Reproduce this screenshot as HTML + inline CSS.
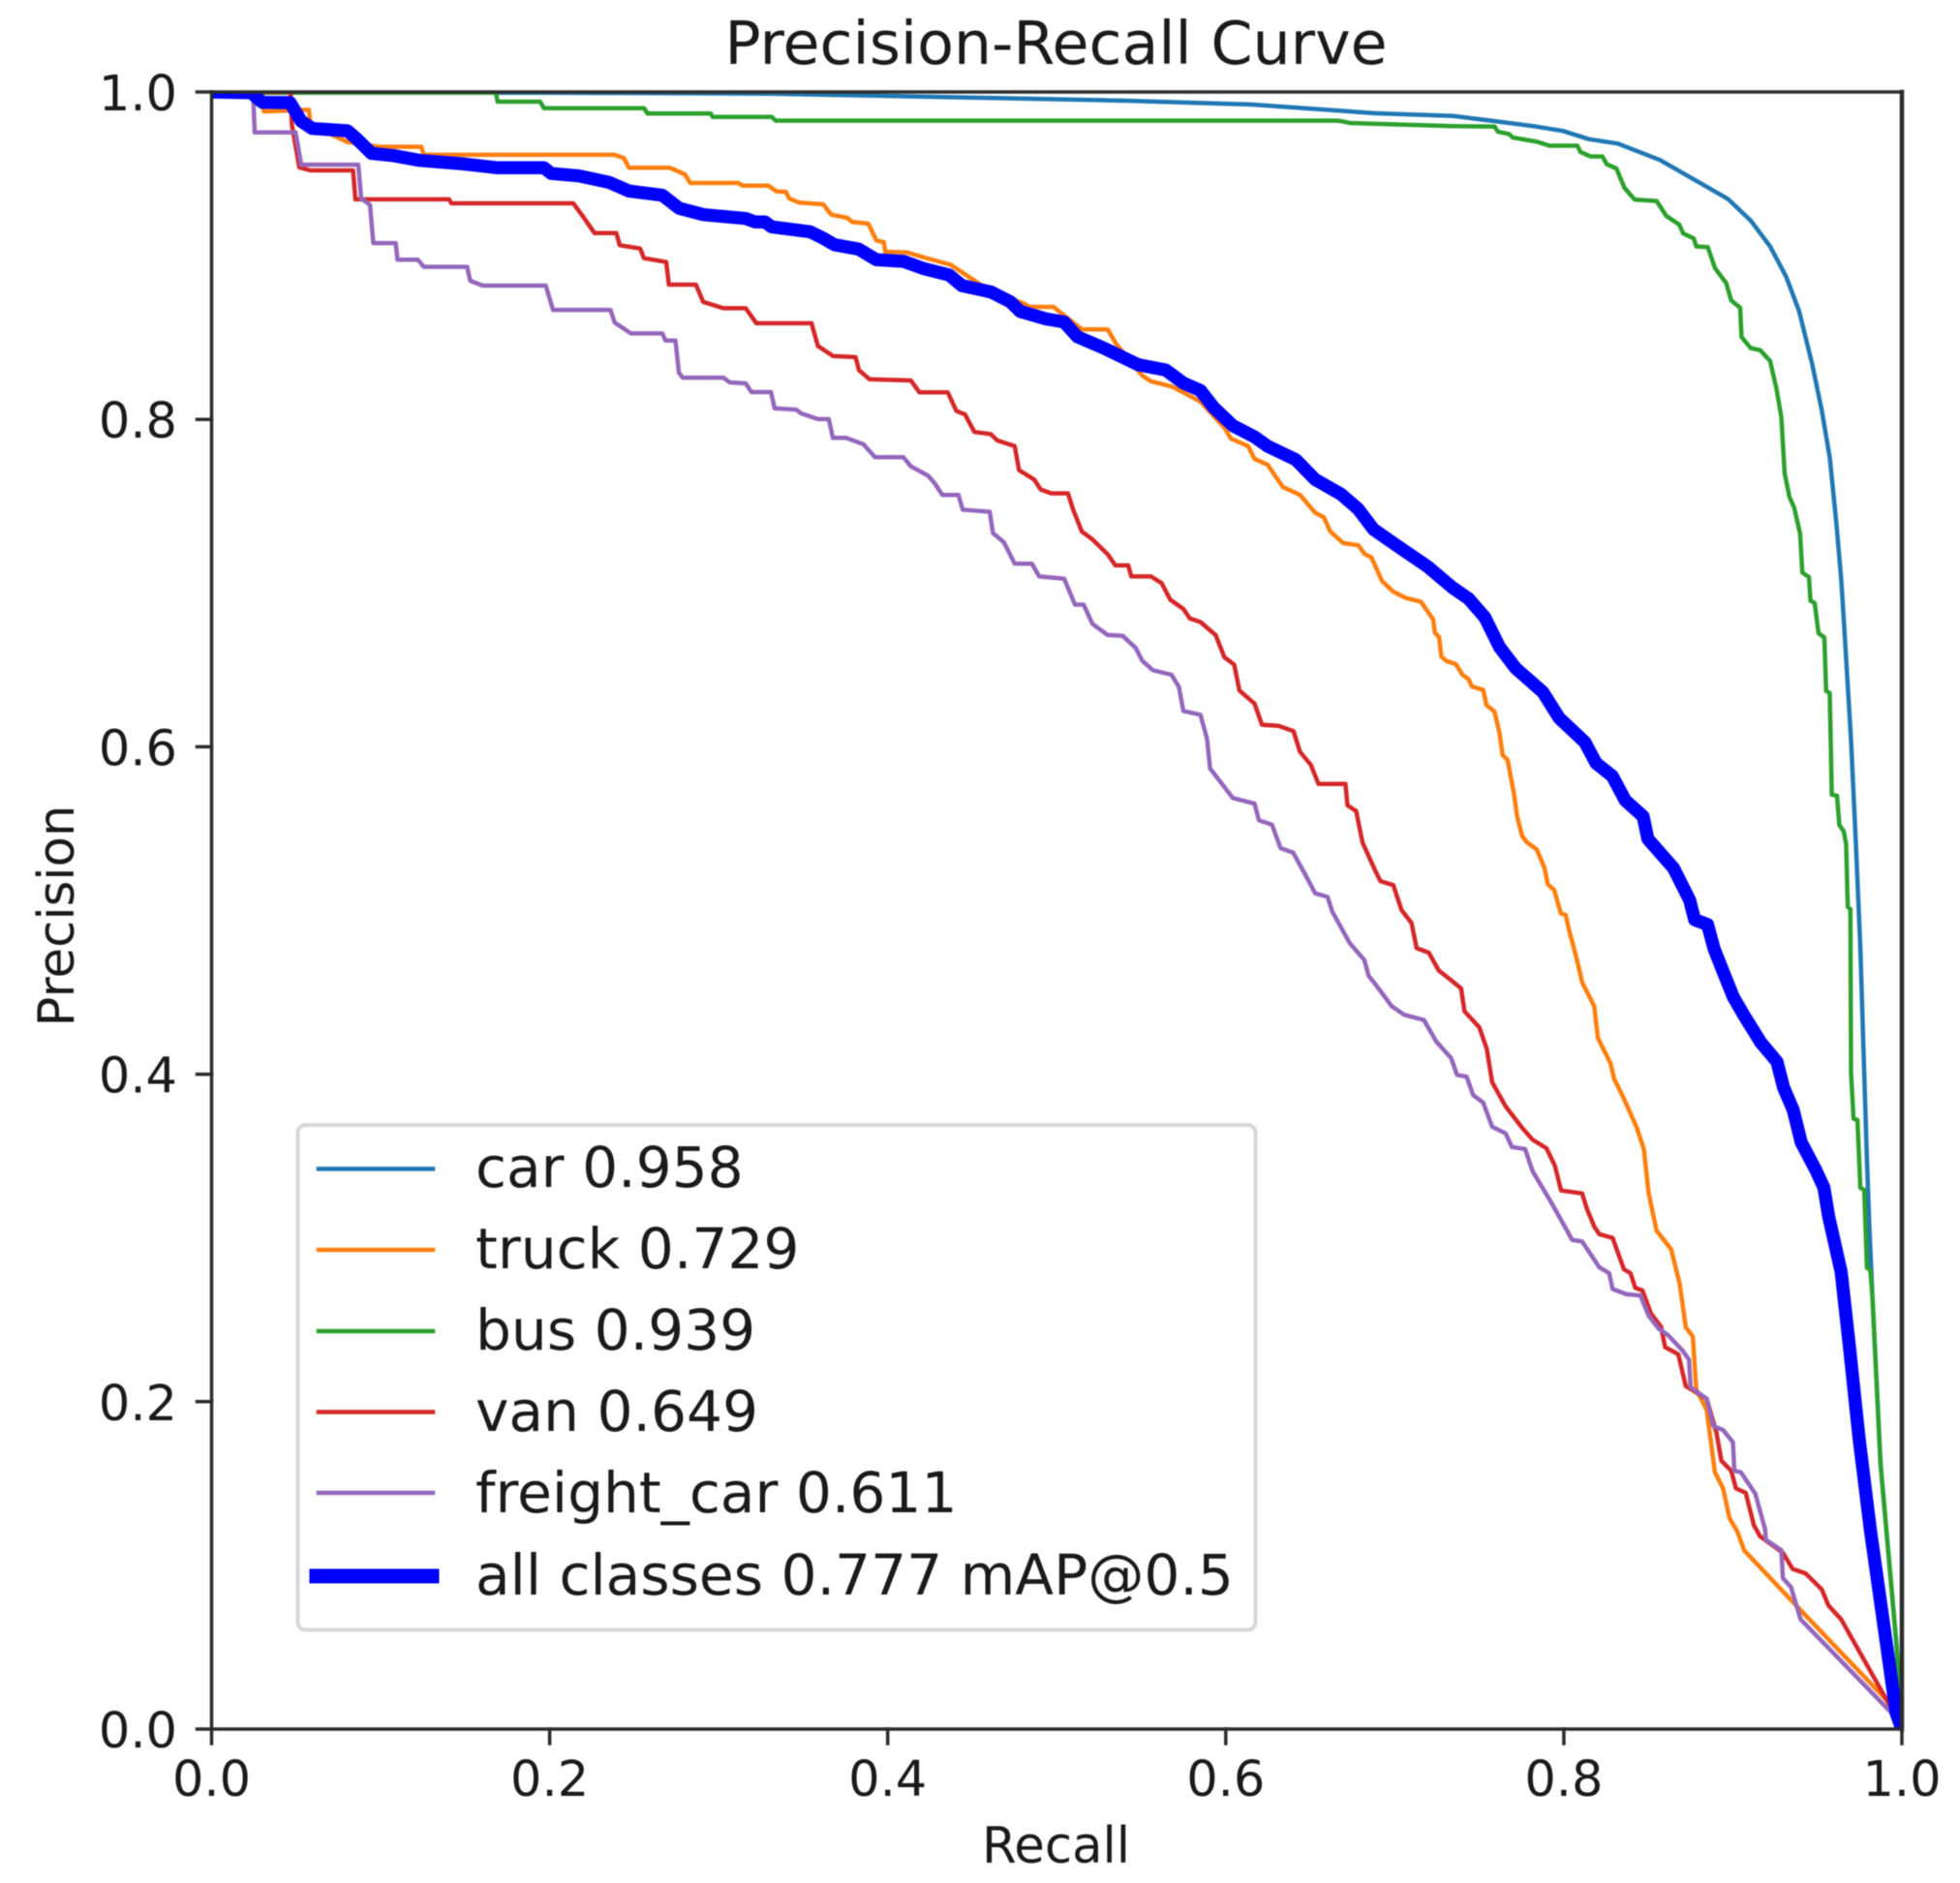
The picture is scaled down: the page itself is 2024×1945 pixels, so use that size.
<!DOCTYPE html>
<html lang="en">
<head>
<meta charset="utf-8">
<title>Precision-Recall Curve</title>
<style>
  html, body { margin: 0; padding: 0; background: #ffffff; }
  #chart { display: block; width: 2024px; height: 1945px; filter: blur(0.6px); }
  text { font-family: "DejaVu Sans", "Liberation Sans", sans-serif; fill: #1a1a1a; }
</style>
</head>
<body>
<svg id="chart" xmlns="http://www.w3.org/2000/svg" width="2024" height="1945" viewBox="0 0 2024 1945">
  <defs>
    <clipPath id="plot-clip"><rect id="plot-clip-rect" x="218.5" y="95" width="1745.5" height="1691"/></clipPath>
  </defs>
  <rect x="0" y="0" width="2024" height="1945" fill="#ffffff"/>
  <g id="series-layer" fill="none" stroke-linejoin="round" clip-path="url(#plot-clip)"></g>
  <g id="axes-layer"></g>
  <text x="1090.5" y="66" font-size="61.8" text-anchor="middle">Precision-Recall Curve</text>
  <text x="1090.5" y="1924" font-size="51.3" text-anchor="middle">Recall</text>
  <text x="76" y="946" font-size="51.3" text-anchor="middle" transform="rotate(-90 76 946)">Precision</text>
  <g>
    <rect x="307.5" y="1162" width="989" height="521.5" rx="8" ry="8" fill="#ffffff" fill-opacity="0.9" stroke="#d8d8d8" stroke-width="4"/>
    <g>
      <line x1="329" y1="1207.4" x2="447" y2="1207.4" stroke="#1f77b4" stroke-width="4.5" stroke-linecap="square"/>
      <text x="491" y="1226" font-size="58.2">car 0.958</text>
    </g>
    <g>
      <line x1="329" y1="1291" x2="447" y2="1291" stroke="#ff7f0e" stroke-width="4.5" stroke-linecap="square"/>
      <text x="491" y="1310" font-size="58.2">truck 0.729</text>
    </g>
    <g>
      <line x1="329" y1="1375" x2="447" y2="1375" stroke="#2ca02c" stroke-width="4.5" stroke-linecap="square"/>
      <text x="491" y="1394" font-size="58.2">bus 0.939</text>
    </g>
    <g>
      <line x1="329" y1="1458.5" x2="447" y2="1458.5" stroke="#d62728" stroke-width="4.5" stroke-linecap="square"/>
      <text x="491" y="1478" font-size="58.2">van 0.649</text>
    </g>
    <g>
      <line x1="329" y1="1542" x2="447" y2="1542" stroke="#9467bd" stroke-width="4.5" stroke-linecap="square"/>
      <text x="491" y="1562" font-size="58.2">freight_car 0.611</text>
    </g>
    <g>
      <line x1="327" y1="1628" x2="446" y2="1628" stroke="#0000ff" stroke-width="15" stroke-linecap="square"/>
      <text x="491" y="1647" font-size="58.2">all classes 0.777 mAP@0.5</text>
    </g>
  </g>
</svg>
<script>
var xTickLabels = ["0.0", "0.2", "0.4", "0.6", "0.8", "1.0"];
var yTickLabels = ["0.0", "0.2", "0.4", "0.6", "0.8", "1.0"];

var carRecall = [
  0, 0.2, 0.33, 0.4667, 0.5407, 0.6146, 0.6886, 0.7342, 0.7591, 0.7821,
  0.7993, 0.8147, 0.8319, 0.8568, 0.8836, 0.897, 0.9105, 0.922, 0.9315, 0.9392,
  0.9468, 0.9526, 0.9574, 0.9612, 0.9641, 0.9656, 0.9699, 0.9728, 0.9754, 0.9773,
  0.9793, 0.9807, 0.9826, 0.9875, 0.9968, 1
];
var carPrecision = [
  0.9995, 0.9995, 0.999, 0.9962, 0.9947, 0.9924, 0.987, 0.9854, 0.9822, 0.9791,
  0.9762, 0.9712, 0.9685, 0.9585, 0.9427, 0.9347, 0.9215, 0.9057, 0.8872, 0.8661,
  0.8344, 0.8054, 0.7764, 0.7367, 0.7024, 0.6777, 0.6038, 0.5405, 0.4772, 0.4137,
  0.3477, 0.3081, 0.2637, 0.16, 0.0516, 0
];

var truckRecall = [
  0, 0.028, 0.031, 0.0575, 0.0585, 0.0804, 0.0988, 0.1241, 0.1255, 0.2383,
  0.2439, 0.247, 0.2712, 0.28, 0.2832, 0.3117, 0.3139, 0.3293, 0.3341, 0.3398,
  0.3417, 0.3475, 0.3618, 0.3666, 0.3761, 0.379, 0.3885, 0.3933, 0.3977, 0.3985,
  0.4114, 0.4229, 0.4372, 0.4611, 0.4802, 0.4838, 0.498, 0.5148, 0.5301, 0.5352,
  0.5506, 0.5557, 0.5684, 0.585, 0.5992, 0.603, 0.6132, 0.617, 0.6247, 0.6337,
  0.6439, 0.6529, 0.658, 0.6618, 0.6695, 0.6784, 0.6823, 0.6861, 0.6925, 0.6989,
  0.7066, 0.7155, 0.7227, 0.7237, 0.7262, 0.7275, 0.7304, 0.7361, 0.7399, 0.7437,
  0.7456, 0.7523, 0.7542, 0.759, 0.7619, 0.7638, 0.7667, 0.7705, 0.7724, 0.7753,
  0.7781, 0.7839, 0.7886, 0.7905, 0.7943, 0.7982, 0.8011, 0.803, 0.8078, 0.8108,
  0.818, 0.8201, 0.8277, 0.8297, 0.8356, 0.8429, 0.8473, 0.8502, 0.8549, 0.8635,
  0.8685, 0.8721, 0.8763, 0.8783, 0.8845, 0.8894, 0.8942, 0.898, 0.9028, 0.9066,
  0.9401, 0.9948, 1
];
var truckPrecision = [
  1, 1, 0.9881, 0.9891, 0.98, 0.9694, 0.9665, 0.9665, 0.9616, 0.9616,
  0.9596, 0.9537, 0.9537, 0.9497, 0.9444, 0.9444, 0.9428, 0.9428, 0.9393, 0.9389,
  0.935, 0.9324, 0.9314, 0.9251, 0.9231, 0.9206, 0.9196, 0.9093, 0.9083, 0.9024,
  0.902, 0.8985, 0.8945, 0.878, 0.8709, 0.8687, 0.8687, 0.855, 0.855, 0.846,
  0.8267, 0.8233, 0.82, 0.8109, 0.795, 0.7883, 0.7837, 0.7759, 0.7724, 0.7588,
  0.7539, 0.743, 0.7403, 0.7316, 0.7244, 0.7231, 0.7176, 0.7158, 0.7011, 0.6949,
  0.6909, 0.6886, 0.6777, 0.6698, 0.6669, 0.6551, 0.6525, 0.6505, 0.6442, 0.6412,
  0.6369, 0.6347, 0.6255, 0.6215, 0.6087, 0.5949, 0.592, 0.5713, 0.5575, 0.5456,
  0.5417, 0.5374, 0.5259, 0.5161, 0.5125, 0.4983, 0.4973, 0.4885, 0.4698, 0.4562,
  0.4415, 0.4222, 0.4064, 0.3974, 0.385, 0.3679, 0.3543, 0.3272, 0.3044, 0.2931,
  0.2721, 0.2454, 0.2398, 0.2076, 0.1949, 0.1569, 0.1471, 0.1288, 0.1204, 0.1092,
  0.0726, 0.0136, 0
];

var busRecall = [
  0, 0.1682, 0.1692, 0.1944, 0.1966, 0.2558, 0.258, 0.2953, 0.2964, 0.3314,
  0.3336, 0.6664, 0.6738, 0.7342, 0.7591, 0.761, 0.7677, 0.7697, 0.784, 0.7916,
  0.808, 0.8099, 0.8157, 0.8228, 0.8253, 0.8311, 0.8358, 0.8419, 0.8549, 0.8606,
  0.8683, 0.8706, 0.8769, 0.8783, 0.8852, 0.8894, 0.8961, 0.899, 0.9043, 0.9051,
  0.9105, 0.9162, 0.922, 0.9258, 0.9287, 0.9306, 0.9335, 0.9363, 0.9398, 0.9411,
  0.945, 0.9459, 0.9484, 0.9507, 0.9541, 0.9552, 0.9573, 0.9585, 0.9616, 0.963,
  0.9656, 0.967, 0.968, 0.9695, 0.9699, 0.9714, 0.9737, 0.9754, 0.9777, 0.9793,
  0.9813, 0.9826, 0.9872, 0.9968, 1
];
var busPrecision = [
  0.9995, 0.9995, 0.9941, 0.9941, 0.9901, 0.9901, 0.9868, 0.9868, 0.9848, 0.9848,
  0.9825, 0.9825, 0.981, 0.9791, 0.9788, 0.9757, 0.9743, 0.9722, 0.9696, 0.9672,
  0.9672, 0.9633, 0.9606, 0.9606, 0.9559, 0.9533, 0.9415, 0.9343, 0.9334, 0.9243,
  0.919, 0.9136, 0.9105, 0.9057, 0.9052, 0.8925, 0.8832, 0.8727, 0.8682, 0.8503,
  0.8436, 0.8423, 0.8357, 0.8186, 0.8014, 0.7671, 0.7526, 0.746, 0.7302, 0.7064,
  0.7037, 0.6892, 0.6879, 0.6694, 0.6668, 0.6341, 0.6328, 0.5708, 0.5701, 0.5523,
  0.5483, 0.5405, 0.5021, 0.5009, 0.4005, 0.3728, 0.372, 0.3306, 0.3294, 0.2817,
  0.2803, 0.2637, 0.1639, 0.0516, 0
];

var vanRecall = [
  0, 0.0467, 0.0475, 0.0519, 0.0585, 0.0837, 0.0851, 0.1406, 0.1418, 0.214,
  0.2196, 0.2266, 0.2394, 0.2415, 0.2535, 0.2558, 0.269, 0.2705, 0.2865, 0.2908,
  0.3028, 0.316, 0.3223, 0.3549, 0.3587, 0.3677, 0.381, 0.383, 0.3893, 0.4137,
  0.4188, 0.4355, 0.4406, 0.4457, 0.4513, 0.4609, 0.4649, 0.4751, 0.4777, 0.4866,
  0.4905, 0.4968, 0.5066, 0.5096, 0.5148, 0.5211, 0.5301, 0.5347, 0.5423, 0.5441,
  0.5557, 0.562, 0.5672, 0.5749, 0.5787, 0.585, 0.594, 0.5992, 0.605, 0.6081,
  0.617, 0.6214, 0.6312, 0.6401, 0.6439, 0.6503, 0.6549, 0.6708, 0.672, 0.6771,
  0.6809, 0.688, 0.6915, 0.6991, 0.704, 0.7099, 0.7129, 0.7201, 0.726, 0.7333,
  0.7392, 0.7412, 0.75, 0.7544, 0.7576, 0.7655, 0.7757, 0.7815, 0.7897, 0.7947,
  0.7984, 0.8108, 0.8137, 0.818, 0.821, 0.8289, 0.8356, 0.8394, 0.8423, 0.8465,
  0.8516, 0.8575, 0.8599, 0.8677, 0.8721, 0.8845, 0.8903, 0.8932, 0.899, 0.9018,
  0.9076, 0.9124, 0.9162, 0.9296, 0.9353, 0.943, 0.9526, 0.9565, 0.9641, 0.9948,
  1
];
var vanPrecision = [
  1, 1, 0.98, 0.9539, 0.9521, 0.9521, 0.9344, 0.9344, 0.932, 0.932,
  0.9241, 0.9138, 0.9138, 0.9064, 0.9044, 0.8985, 0.8961, 0.8823, 0.8823, 0.8718,
  0.8679, 0.8679, 0.8587, 0.8587, 0.8448, 0.8387, 0.838, 0.8301, 0.8245, 0.8238,
  0.8165, 0.8165, 0.8052, 0.803, 0.7923, 0.791, 0.7871, 0.7837, 0.769, 0.7633,
  0.7572, 0.7548, 0.7548, 0.7452, 0.7316, 0.7267, 0.7176, 0.7108, 0.7108, 0.7041,
  0.7041, 0.7, 0.6898, 0.6842, 0.6785, 0.6762, 0.6683, 0.6547, 0.6502, 0.6344,
  0.6264, 0.6135, 0.6128, 0.6095, 0.597, 0.589, 0.5773, 0.5773, 0.5642, 0.5608,
  0.5416, 0.5253, 0.518, 0.5155, 0.5003, 0.4924, 0.477, 0.4743, 0.4634, 0.4574,
  0.4524, 0.4385, 0.4286, 0.4155, 0.3951, 0.3804, 0.3668, 0.36, 0.3548, 0.3442,
  0.329, 0.3272, 0.3177, 0.3069, 0.3023, 0.3, 0.2808, 0.2785, 0.2695, 0.2679,
  0.2537, 0.2457, 0.2333, 0.2289, 0.2095, 0.2018, 0.181, 0.1639, 0.1578, 0.1471,
  0.1443, 0.1246, 0.1176, 0.1077, 0.0979, 0.0951, 0.0853, 0.0755, 0.067, 0.0108,
  0
];

var freightRecall = [
  0, 0.0245, 0.0255, 0.0497, 0.053, 0.0868, 0.0885, 0.0937, 0.0957, 0.1089,
  0.11, 0.122, 0.1256, 0.1512, 0.153, 0.1604, 0.1977, 0.202, 0.236, 0.2385,
  0.2481, 0.2667, 0.2685, 0.2744, 0.2765, 0.2787, 0.3028, 0.3065, 0.316, 0.3194,
  0.3309, 0.3331, 0.3459, 0.3486, 0.3587, 0.3651, 0.3676, 0.3754, 0.3856, 0.3925,
  0.4093, 0.4137, 0.4239, 0.4277, 0.4323, 0.4418, 0.4444, 0.4603, 0.4623, 0.4687,
  0.4751, 0.4853, 0.4896, 0.5044, 0.5108, 0.5159, 0.5211, 0.5301, 0.539, 0.5467,
  0.5506, 0.5569, 0.5679, 0.5723, 0.5749, 0.585, 0.5889, 0.5907, 0.5966, 0.6042,
  0.617, 0.6196, 0.6273, 0.6324, 0.6398, 0.6471, 0.6529, 0.6602, 0.6631, 0.6734,
  0.682, 0.6845, 0.6909, 0.6982, 0.7055, 0.7172, 0.7245, 0.7333, 0.7368, 0.7425,
  0.7464, 0.7523, 0.7576, 0.7655, 0.7693, 0.7771, 0.7815, 0.7932, 0.8049, 0.8108,
  0.821, 0.8268, 0.8289, 0.8371, 0.8453, 0.8502, 0.8561, 0.8616, 0.8702, 0.874,
  0.875, 0.8845, 0.8884, 0.8942, 0.9, 0.9009, 0.9047, 0.9133, 0.9191, 0.9195,
  0.9287, 0.9296, 0.9344, 0.9401, 0.9957, 1
];
var freightPrecision = [
  1, 1, 0.9753, 0.9753, 0.9556, 0.9556, 0.935, 0.931, 0.9077, 0.9077,
  0.8975, 0.8975, 0.8932, 0.8932, 0.8847, 0.8817, 0.8817, 0.8669, 0.8669, 0.8591,
  0.8525, 0.8525, 0.8482, 0.8482, 0.8285, 0.8255, 0.8255, 0.8226, 0.822, 0.8167,
  0.8167, 0.8068, 0.806, 0.8037, 0.8002, 0.8002, 0.7887, 0.7887, 0.7848, 0.7769,
  0.7769, 0.7713, 0.7656, 0.7611, 0.7539, 0.7539, 0.7448, 0.7436, 0.7305, 0.725,
  0.7118, 0.7118, 0.7041, 0.7027, 0.6869, 0.6869, 0.6751, 0.6683, 0.6678, 0.6604,
  0.6525, 0.6468, 0.644, 0.6366, 0.6219, 0.6196, 0.605, 0.5868, 0.5789, 0.5687,
  0.5653, 0.5551, 0.5524, 0.5381, 0.5354, 0.5218, 0.5105, 0.5083, 0.4992, 0.48,
  0.4698, 0.4602, 0.4517, 0.4415, 0.4363, 0.4331, 0.42, 0.4098, 0.3996, 0.3985,
  0.3872, 0.3827, 0.3679, 0.3639, 0.3555, 0.3543, 0.3408, 0.3205, 0.2989, 0.2978,
  0.282, 0.2785, 0.2688, 0.2656, 0.2649, 0.2525, 0.2446, 0.2407, 0.2313, 0.2257,
  0.2089, 0.2018, 0.1851, 0.1827, 0.1752, 0.1578, 0.1569, 0.1437, 0.1218, 0.1156,
  0.1092, 0.0922, 0.0867, 0.067, 0.008, 0
];

var allRecall = [
  0, 0.0234, 0.03, 0.0464, 0.053, 0.0596, 0.0804, 0.0859, 0.0946, 0.1078,
  0.1231, 0.1495, 0.1692, 0.1966, 0.201, 0.2174, 0.235, 0.247, 0.2667, 0.2766,
  0.2909, 0.316, 0.3217, 0.3274, 0.3313, 0.3541, 0.3618, 0.3685, 0.3828, 0.3933,
  0.4095, 0.421, 0.4363, 0.4439, 0.4611, 0.4725, 0.4783, 0.4936, 0.5044, 0.5122,
  0.5275, 0.548, 0.5646, 0.5749, 0.585, 0.5927, 0.6042, 0.617, 0.6247, 0.6414,
  0.6529, 0.6682, 0.6784, 0.6874, 0.7015, 0.7193, 0.7342, 0.7437, 0.7533, 0.7619,
  0.7714, 0.7876, 0.7972, 0.8125, 0.8191, 0.8287, 0.8363, 0.8469, 0.8497, 0.8649,
  0.8745, 0.8774, 0.885, 0.8889, 0.8946, 0.9003, 0.907, 0.9165, 0.9261, 0.93,
  0.9357, 0.9404, 0.949, 0.9538, 0.9567, 0.9641, 0.9689, 0.9746, 0.9813, 0.989,
  0.9967, 1
];
var allPrecision = [
  1, 0.9995, 0.9937, 0.9935, 0.9822, 0.9777, 0.9763, 0.9714, 0.9625, 0.9611,
  0.9582, 0.956, 0.9537, 0.9537, 0.9502, 0.9487, 0.9448, 0.9395, 0.9369, 0.929,
  0.9251, 0.9227, 0.9206, 0.9206, 0.9176, 0.9146, 0.9107, 0.9067, 0.904, 0.8975,
  0.8965, 0.8922, 0.8882, 0.8817, 0.8778, 0.8719, 0.866, 0.8614, 0.8595, 0.8505,
  0.8437, 0.8335, 0.8301, 0.8222, 0.8177, 0.8074, 0.7962, 0.7893, 0.7837, 0.7754,
  0.7633, 0.7543, 0.7452, 0.7328, 0.7227, 0.7102, 0.6972, 0.6905, 0.679, 0.661,
  0.6481, 0.6334, 0.6176, 0.6028, 0.59, 0.5821, 0.5673, 0.5575, 0.5437, 0.5259,
  0.5062, 0.4944, 0.4914, 0.4766, 0.4618, 0.4471, 0.4352, 0.4194, 0.4076, 0.3919,
  0.3781, 0.3584, 0.3416, 0.3308, 0.313, 0.2791, 0.2342, 0.178, 0.1218, 0.0656,
  0.0095, 0
];

var plotLeft = 218.5;
var plotRight = 1964;
var plotTop = 95;
var plotBottom = 1786;
var NS = 'http://www.w3.org/2000/svg';

function scaleX(v) { return plotLeft + v * (plotRight - plotLeft); }
function scaleY(v) { return plotBottom - v * (plotBottom - plotTop); }

function drawCurve(recall, precision, color, width, name) {
  var pts = [];
  for (var i = 0; i < recall.length; i++) {
    pts.push(scaleX(recall[i]).toFixed(1) + ',' + scaleY(precision[i]).toFixed(1));
  }
  var el = document.createElementNS(NS, 'polyline');
  el.setAttribute('points', pts.join(' '));
  el.setAttribute('stroke', color);
  el.setAttribute('stroke-width', width);
  
  
  document.getElementById('series-layer').appendChild(el);
}

drawCurve(carRecall, carPrecision, '#1f77b4', 4.5, 'curve-car');
drawCurve(truckRecall, truckPrecision, '#ff7f0e', 4.5, 'curve-truck');
drawCurve(busRecall, busPrecision, '#2ca02c', 4.5, 'curve-bus');
drawCurve(vanRecall, vanPrecision, '#d62728', 4.5, 'curve-van');
drawCurve(freightRecall, freightPrecision, '#9467bd', 4.5, 'curve-freight-car');
drawCurve(allRecall, allPrecision, '#0000ff', 13.5, 'curve-all-classes');

var axes = document.getElementById('axes-layer');

function addLine(x1, y1, x2, y2, w, name) {
  var l = document.createElementNS(NS, 'line');
  l.setAttribute('x1', x1);
  l.setAttribute('y1', y1);
  l.setAttribute('x2', x2);
  l.setAttribute('y2', y2);
  l.setAttribute('stroke', '#2b2b2b');
  l.setAttribute('stroke-width', w);
  l.setAttribute('stroke-linecap', 'square');
  
  
  axes.appendChild(l);
}

function addLabel(str, x, y, anchor, name) {
  var t = document.createElementNS(NS, 'text');
  t.setAttribute('x', x);
  t.setAttribute('y', y);
  t.setAttribute('font-size', '51');
  t.setAttribute('text-anchor', anchor);
  t.textContent = str;
  
  
  axes.appendChild(t);
}

addLine(plotLeft, plotTop, plotLeft, plotBottom, 3.5, 'left-spine');
addLine(plotRight, plotTop, plotRight, plotBottom, 4.5, 'right-spine');
addLine(plotLeft, plotTop, plotRight, plotTop, 3.5, 'top-spine');
addLine(plotLeft, plotBottom, plotRight, plotBottom, 3.5, 'bottom-spine');

xTickLabels.forEach(function (label) {
  var x = scaleX(parseFloat(label));
  addLine(x, plotBottom, x, plotBottom + 15, 3.5, 'x-tick-' + label);
  addLabel(label, x, 1855, 'middle', 'x-tick-label-' + label);
});
yTickLabels.forEach(function (label) {
  var y = scaleY(parseFloat(label));
  addLine(plotLeft - 15, y, plotLeft, y, 3.5, 'y-tick-' + label);
  addLabel(label, 183, y + 19, 'end', 'y-tick-label-' + label);
});
</script>
</body>
</html>
